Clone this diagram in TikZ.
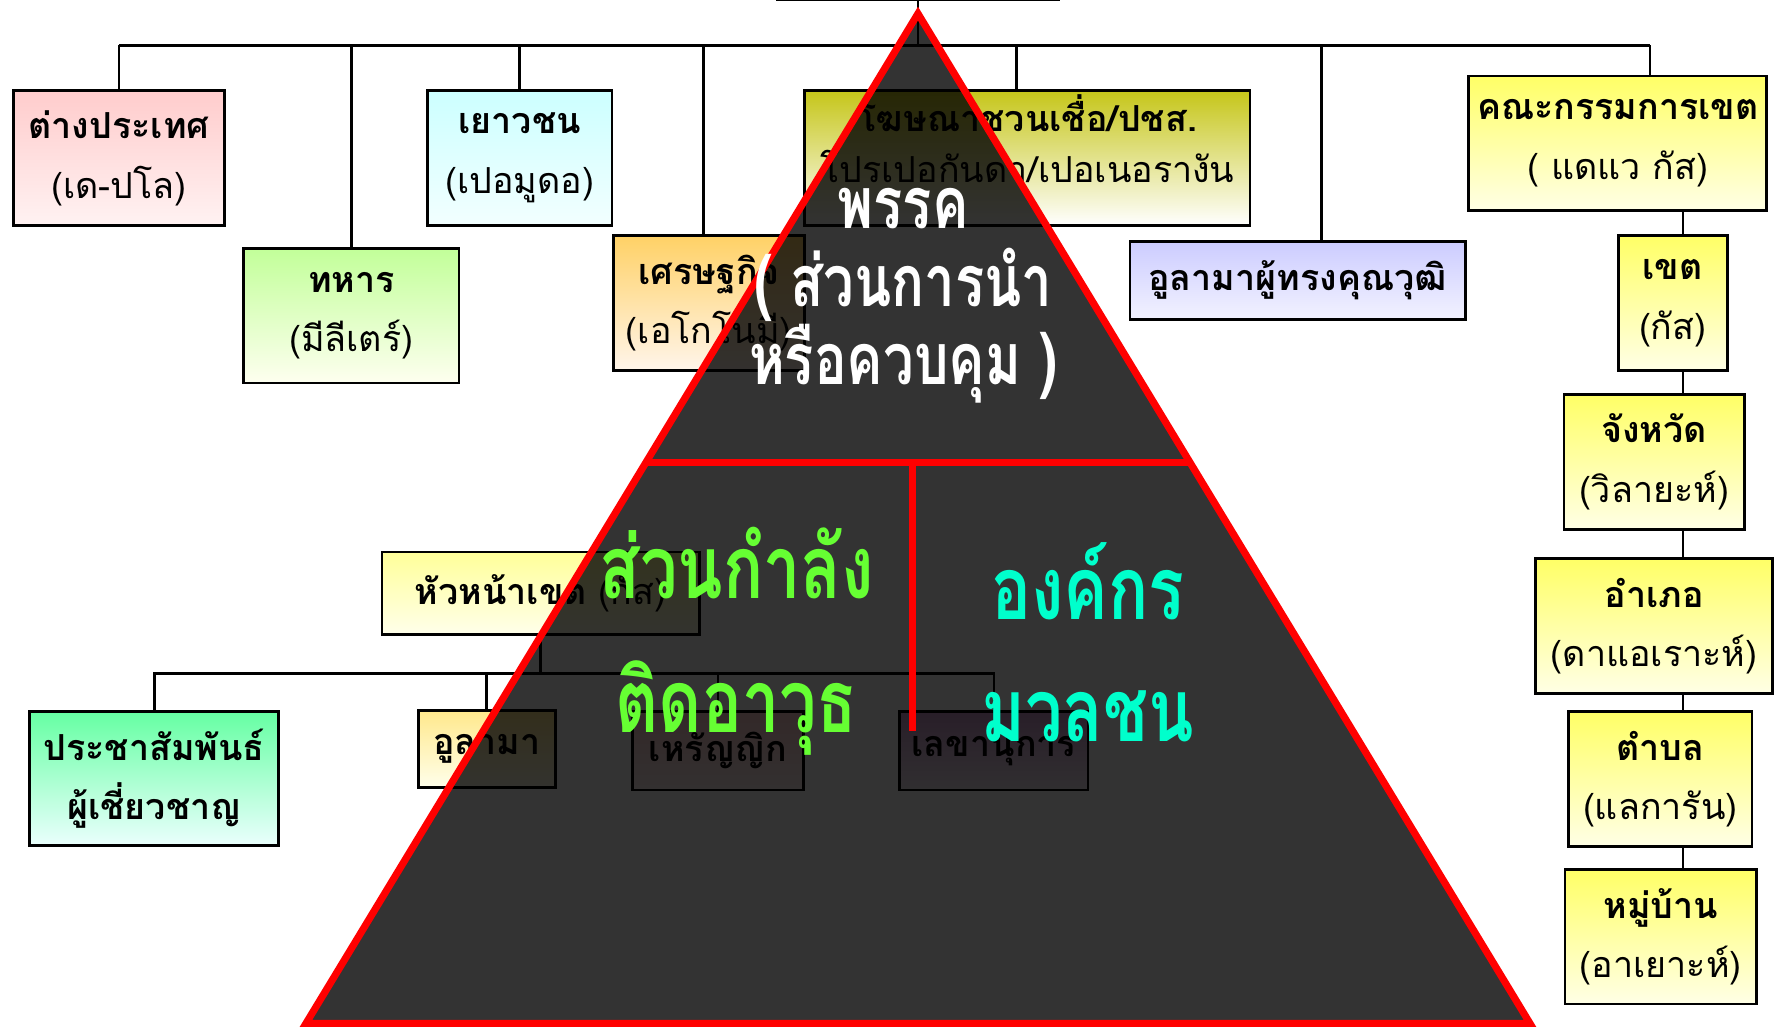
\documentclass[tikz,border=0pt]{standalone}
\usepackage{fontspec}
\newfontfamily\thai[Script=Thai]{Loma}
\newfontfamily\thaitall[Script=Thai,FakeStretch=0.76]{Loma}
\usetikzlibrary{calc}

\definecolor{tri}{HTML}{333333}
\definecolor{armed}{HTML}{66FF33}
\definecolor{mass}{HTML}{00FFCC}
\newcommand\boxfont{\thai\fontsize{9}{15}\selectfont}
\newcommand\partyfont{\thaitall\bfseries\fontsize{18}{19.6}\selectfont}
\newcommand\wingfont{\thaitall\bfseries\fontsize{22}{24}\selectfont}

\begin{document}
\begin{tikzpicture}[x=0.1mm,y=0.1mm,
    box/.style 2 args={draw=black,line width=0.7pt,top color=#1,bottom color=#2,
      inner sep=0pt,align=center,font=\boxfont},
    link/.style={draw=black,line width=0.7pt},
    redline/.style={draw=red,line width=1.8pt},
    bigtext/.style={inner sep=0pt,align=center}]
    \useasboundingbox (0,0) rectangle (1568,-909);

    % top row of the party chart
    \node[draw=black,line width=0.7pt,fill=white,minimum width=24.8mm,minimum height=6mm,anchor=south] (root) at (810,-1) {};
    \node[box={red!20}{red!5},minimum width=18.6mm,minimum height=11.9mm] (fr) at (105,-139.5) {\textbf{ต่างประเทศ}\\(เด-ปโล)};
    \node[box={green!60!yellow!40}{green!8!yellow!6},minimum width=19mm,minimum height=11.9mm] (mil) at (310,-278.5) {\textbf{ทหาร}\\(มีลีเตร์)};
    \node[box={cyan!20}{cyan!5},minimum width=16.3mm,minimum height=11.9mm] (youth) at (458.5,-139.5) {\textbf{เยาวชน}\\(เปอมูดอ)};
    \node[box={orange!60!yellow!60}{orange!8},minimum width=16.9mm,minimum height=11.9mm] (eco) at (625.5,-267.5) {\textbf{เศรษฐกิจ}\\(เอโกโนมี)};
    \node[box={yellow!75!black!90}{white},minimum width=39.3mm,minimum height=11.9mm,font=\thai\fontsize{9}{13}\selectfont] (prop) at (906.5,-139.5) {\textbf{โฆษณาชวนเชื่อ/ปชส.}\\โปรเปอกันดา/เปอเนอรางัน\\[-3.2pt]\mbox{}};
    \node[box={blue!20}{blue!5},minimum width=29.6mm,minimum height=6.9mm] (ulq) at (1145,-247.5) {\textbf{อูลามาผู้ทรงคุณวุฒิ}};
    \node[box={yellow!60}{yellow!10},minimum width=26.3mm,minimum height=11.9mm] (kgk) at (1427.5,-126.5) {\textbf{คณะกรรมการเขต}\\( แดแว กัส)};

    % territorial column
    \node[box={yellow!60}{yellow!10},minimum width=9.6mm,minimum height=11.9mm] (khet) at (1476,-267.5) {\textbf{เขต}\\(กัส)};
    \node[box={yellow!60}{yellow!10},minimum width=15.9mm,minimum height=11.9mm] (cw) at (1459.5,-407.5) {\textbf{จังหวัด}\\(วิลายะห์)};
    \node[box={yellow!60}{yellow!10},minimum width=20.9mm,minimum height=11.9mm] (amp) at (1459.5,-552.5) {\textbf{อำเภอ}\\(ดาแอเราะห์)};
    \node[box={yellow!60}{yellow!10},minimum width=16.2mm,minimum height=11.9mm] (tb) at (1465,-687.5) {\textbf{ตำบล}\\(แลการัน)};
    \node[box={yellow!60}{yellow!10},minimum width=16.9mm,minimum height=11.9mm] (mb) at (1465.5,-826.5) {\textbf{หมู่บ้าน}\\(อาเยาะห์)};

    % district head and its staff
    \node[box={yellow!40}{yellow!8},minimum width=28mm,minimum height=7.3mm] (hk) at (477,-523.5) {\textbf{หัวหน้าเขต} (กัส)};
    \node[box={green!60!cyan!60}{green!10!cyan!8},minimum width=22mm,minimum height=11.8mm] (pr) at (136,-687) {\textbf{ประชาสัมพันธ์}\\\textbf{ผู้เชี่ยวชาญ}};
    \node[box={orange!40!yellow!45}{yellow!8},minimum width=12.1mm,minimum height=6.8mm] (ul) at (429.5,-661) {\textbf{อูลามา}};
    \node[box={red!20}{red!5},minimum width=15.1mm,minimum height=6.9mm] (tre) at (633.5,-662.5) {\textbf{เหรัญญิก}};
    \node[box={violet!40}{violet!8},minimum width=16.6mm,minimum height=6.9mm] (sec) at (877,-662.5) {\textbf{เลขานุการ}};

    % connectors
    \coordinate (topbus) at (0,-40);
    \coordinate (lowbus) at (0,-594);
    \coordinate (spine) at (1485,0);
    \coordinate (ecoTop) at ([xshift=-0.5mm]eco.north);
    \coordinate (propTop) at ([xshift=-0.95mm]prop.north);
    \coordinate (ulqTop) at ([xshift=2.1mm]ulq.north);
    \coordinate (kgkTop) at ([xshift=2.85mm]kgk.north);
    \draw[link] (root.south) -- (root.south |- topbus);
    \draw[link] (fr.north |- topbus) -- (kgkTop |- topbus);
    \foreach \n in {fr,mil,youth}
        \draw[link] (\n.north) -- (\n.north |- topbus);
    \foreach \n in {ecoTop,propTop,ulqTop,kgkTop}
        \draw[link] (\n) -- (\n |- topbus);
    \foreach \a/\b in {kgk/khet,khet/cw,cw/amp,amp/tb,tb/mb}
        \draw[link] (\a.south -| spine) -- (\b.north -| spine);
    \draw[link] (hk.south) -- (hk.south |- lowbus);
    \draw[link] (pr.north) -- (pr.north |- lowbus) -- (sec.north |- lowbus) -- (sec.north);
    \foreach \n in {ul,tre}
        \draw[link] (\n.north) -- (\n.north |- lowbus);

    % the pyramid laid over the chart
    \coordinate (apex) at (810,-12);
    \coordinate (baseL) at (270,-903);
    \coordinate (baseR) at (1350,-903);
    \coordinate (cutL) at ($(apex)!0.4444!(baseL)$);
    \coordinate (cutR) at ($(apex)!0.4444!(baseR)$);
    \coordinate (cutM) at ($(cutL)!0.49!(cutR)$);
    \coordinate (stemEnd) at ($(cutM)+(0,-237)$);
    \begin{scope}[blend mode=multiply]
        \fill[tri] (apex) -- (baseL) -- (baseR) -- cycle;
    \end{scope}
    \draw[redline,line join=miter] (apex) -- (baseL) -- (baseR) -- cycle;
    \draw[redline] (cutL) -- (cutR);
    \draw[redline] (cutM) -- (stemEnd);

    \node[bigtext,text=white,font=\partyfont] (party) at (797,-261) {พรรค\\( ส่วนการนำ\\หรือควบคุม )};
    \node[bigtext,text=armed,font=\wingfont] (armA) at (650,-497) {ส่วนกำลัง};
    \node[bigtext,text=armed,font=\wingfont] (armB) at (650,-625) {ติดอาวุธ};
    \node[bigtext,text=mass,font=\wingfont] (massA) at (960,-513) {องค์กร};
    \node[bigtext,text=mass,font=\wingfont] (massB) at (960,-632) {มวลชน};
\end{tikzpicture}
\end{document}
